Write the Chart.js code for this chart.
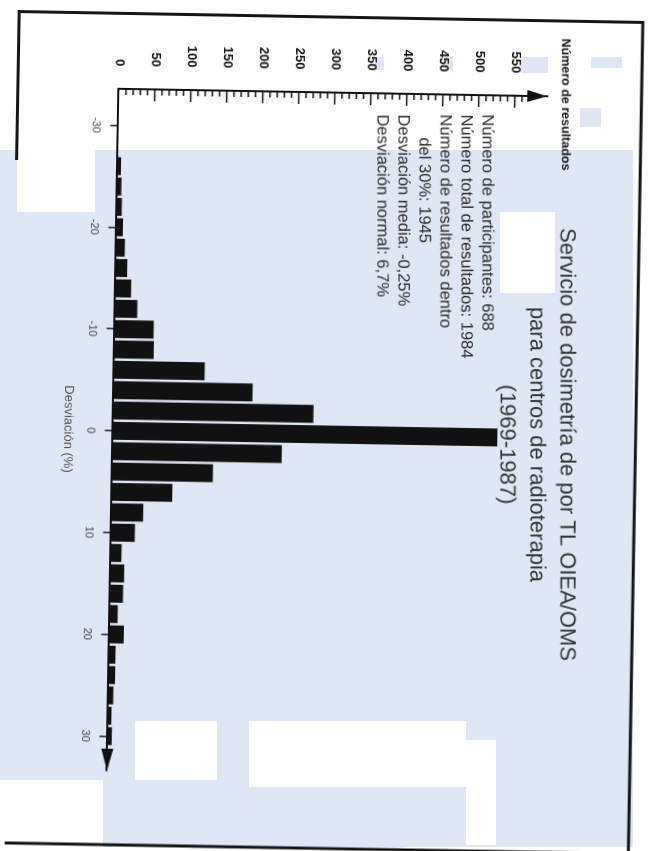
<!DOCTYPE html>
<html>
<head>
<meta charset="utf-8">
<script src="https://cdn.jsdelivr.net/npm/chart.js@4.4.1/dist/chart.umd.min.js"></script>
<style>
html, body { margin: 0; padding: 0; width: 654px; height: 851px; overflow: hidden; background: #fff; }
.blue { position: absolute; background: #dfe6f4; }
.white { position: absolute; background: #fff; }
#sheet { position: absolute; left: -98.5px; top: 98.5px; width: 851px; height: 654px; transform: rotate(91deg); }
</style>
</head>
<body>
<!-- scan paper patches -->
<div class="blue" style="left:0;top:150px;width:633px;height:697px"></div>
<div class="white" style="left:17px;top:150px;width:78px;height:62px"></div>
<div class="white" style="left:500px;top:212px;width:55px;height:81px"></div>
<div class="white" style="left:135px;top:721px;width:82px;height:59px"></div>
<div class="white" style="left:249px;top:721px;width:217px;height:66px"></div>
<div class="white" style="left:466px;top:740px;width:30px;height:105px"></div>
<div class="white" style="left:0;top:780px;width:103px;height:71px"></div>
<div class="blue" style="left:591px;top:57px;width:31px;height:11px"></div>
<div class="blue" style="left:580px;top:108px;width:21px;height:19px"></div>
<div class="blue" style="left:521px;top:57px;width:27px;height:16px"></div>
<div class="blue" style="left:445px;top:57px;width:8px;height:13px"></div>
<div class="blue" style="left:375px;top:57px;width:9px;height:13px"></div>

<div id="sheet"><canvas id="chart" width="851" height="654"></canvas></div>

<script>
// 2% bins of deviation, centred on even values
const deviation = [-30, -28, -26, -24, -22, -20, -18, -16, -14, -12, -10, -8, -6, -4, -2,
                   0, 2, 4, 6, 8, 10, 12, 14, 16, 18, 20, 22, 24, 26, 28, 30];
const results = [0, 0, 5, 6, 7, 9, 12, 16, 22, 31, 54, 55, 126, 193, 278,
                 534, 235, 140, 84, 44, 33, 15, 19, 18, 11, 20, 9, 9, 7, 5, 6];
const devTicks = [-30, -20, -10, 0, 10, 20, 30];
const countTicks = [0, 50, 100, 150, 200, 250, 300, 350, 400, 450, 500, 550];

const titleLines = ['Servicio de dosimetría de por TL OIEA/OMS', 'para centros de radioterapia', '(1969-1987)'];
const notes = ['Número de participantes: 688', 'Número total de resultados: 1984', 'Número de resultados dentro',
               'del 30%: 1945', 'Desviación media: -0,25%', 'Desviación normal: 6,7%'];

const ROT = 91 * Math.PI / 180;   // the whole scan is turned a bit more than a quarter
const TILT = 1 * Math.PI / 180;   // text itself sits square on the page

// page point -> point on the rotated sheet
function fromPage(px, py) {
    const dx = px - 327, dy = py - 425.5;
    const c = Math.cos(ROT), s = Math.sin(ROT);
    return { x: 425.5 + dx * c + dy * s, y: 327 - dx * s + dy * c };
}

function text(ctx, str, px, py, font, color, align) {
    const p = fromPage(px, py);
    ctx.save();
    ctx.translate(p.x, p.y);
    ctx.rotate(-TILT);
    ctx.font = font;
    ctx.fillStyle = color;
    ctx.textAlign = align;
    ctx.textBaseline = 'alphabetic';
    ctx.fillText(str, 0, 0);
    ctx.restore();
}

const decor = {
    id: 'decor',
    beforeDraw(chart) {
        const ctx = chart.ctx;
        ctx.save();
        ctx.strokeStyle = '#151515';
        ctx.lineWidth = 3;
        ctx.beginPath();
        ctx.moveTo(165, 642.6);
        ctx.lineTo(16.5, 642.6);
        ctx.lineTo(16.5, 18.7);
        ctx.lineTo(848, 18.7);
        ctx.lineTo(848, 642.6);
        ctx.stroke();
        ctx.restore();
    },
    afterDraw(chart) {
        const ctx = chart.ctx;
        const {left, right, top, bottom} = chart.chartArea;
        const ys = chart.scales.y;
        ctx.save();
        ctx.strokeStyle = '#111';
        ctx.fillStyle = '#111';
        ctx.lineWidth = 1.5;
        // inner ticks on the count axis
        for (let v = 10; v <= 560; v += 10) {
            const y = ys.getPixelForValue(v);
            const len = v % 50 === 0 ? 12 : 6;
            ctx.beginPath();
            ctx.moveTo(left, y);
            ctx.lineTo(left + len, y);
            ctx.stroke();
        }
        // arrow heads
        ctx.beginPath();
        ctx.moveTo(left, top);
        ctx.lineTo(left - 6, top + 20);
        ctx.lineTo(left + 6, top + 20);
        ctx.closePath();
        ctx.fill();
        ctx.beginPath();
        ctx.moveTo(right, bottom);
        ctx.lineTo(right - 22, bottom - 6);
        ctx.lineTo(right - 22, bottom + 6);
        ctx.closePath();
        ctx.fill();
        ctx.restore();

        text(ctx, 'Número de resultados', 561.5, 38, 'bold 12.5px "Liberation Sans"', '#111', 'left');
        const titleX = [560, 530, 500];
        titleLines.forEach((t, i) => text(ctx, t, titleX[i], 444, '22px "Liberation Sans"', '#333', 'center'));
        const noteX = [482, 461, 440, 419, 398, 377];
        notes.forEach((t, i) => text(ctx, t, noteX[i], i == 3 ? 137 : 114, '16.5px "Liberation Sans"', '#2a2a2a', 'left'));
    }
};

const ctx = document.getElementById('chart').getContext('2d');
new Chart(ctx, {
    type: 'bar',
    data: {
        datasets: [{
            data: deviation.map((d, i) => ({x: d, y: results[i]})),
            backgroundColor: '#111',
            borderWidth: 0,
            categoryPercentage: 1,
            barPercentage: 0.88
        }]
    },
    options: {
        responsive: false,
        maintainAspectRatio: false,
        animation: false,
        layout: { padding: { left: 32, right: 77, top: 113, bottom: 52.5 } },
        plugins: { legend: { display: false }, tooltip: { enabled: false } },
        scales: {
            x: {
                type: 'linear',
                min: -33.6,
                max: 33.4,
                offset: false,
                afterBuildTicks: s => { s.ticks = devTicks.map(v => ({value: v})); },
                afterFit: s => { s.height = 60; },
                grid: { offset: false, drawOnChartArea: false, drawTicks: true, tickLength: 8, color: '#222', lineWidth: 1.5 },
                border: { display: true, color: '#111', width: 2 },
                ticks: { color: '#444', padding: 8, font: { family: 'Liberation Sans', size: 11 } },
                title: { display: true, text: 'Desviación (%)', color: '#555', padding: { top: 0, bottom: 7.7 },
                         font: { family: 'Liberation Sans', size: 13 } }
            },
            y: {
                min: 0,
                max: 595,
                afterBuildTicks: s => { s.ticks = countTicks.map(v => ({value: v})); },
                afterFit: s => { s.width = 60; },
                grid: { drawOnChartArea: false, drawTicks: false },
                border: { display: true, color: '#111', width: 2 },
                ticks: { color: '#111', padding: 22.5, font: { family: 'Liberation Sans', size: 13, weight: 'bold' } }
            }
        }
    },
    plugins: [decor]
});
</script>
</body>
</html>
